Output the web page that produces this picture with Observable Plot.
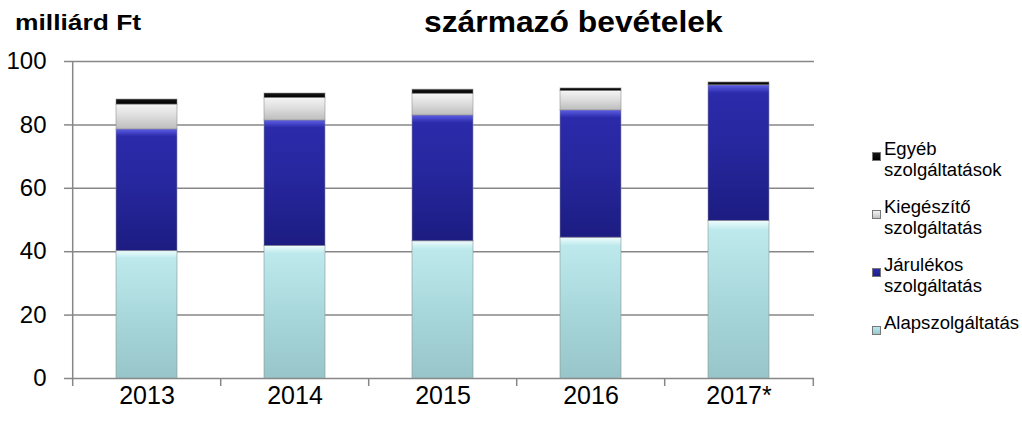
<!DOCTYPE html>
<html><head><meta charset="utf-8">
<script src="https://cdn.jsdelivr.net/npm/d3@7"></script>
<script src="https://cdn.jsdelivr.net/npm/@observablehq/plot@0.6"></script>
<style>
body{margin:0;background:#fff;font-family:"Liberation Sans",Arial,sans-serif;}
#wrap{position:relative;width:1022px;height:421px;overflow:hidden;background:#fff;}
#chart{position:absolute;left:0;top:0;}
.t{position:absolute;white-space:nowrap;color:#000;transform-origin:0 0;}
</style></head><body>
<svg width="0" height="0" style="position:absolute">
<defs id="defs"></defs>
</svg>
<div id="wrap">
<div id="chart"></div>
<div class="t" id="unit">milliárd Ft</div>
<div class="t" id="title">származó bevételek</div>
<div id="legend"></div>
</div>
<script>
// ---- data ----
const years = ["2013", "2014", "2015", "2016", "2017*"];
const seriesNames = ["Alapszolgáltatás", "Járulékos szolgáltatás", "Kiegészítő szolgáltatás", "Egyéb szolgáltatások"];
const alap = [40.2, 41.8, 43.3, 44.4, 49.7];
const jarulekos = [38.4, 39.6, 39.7, 40.2, 42.8];
const kiegeszito = [7.8, 7.1, 6.8, 6.1, 0];
const egyeb = [1.6, 1.4, 1.3, 0.8, 0.9];
const yTicks = [0, 20, 40, 60, 80, 100];
const legendLabels = [["Egyéb", "szolgáltatások"], ["Kiegészítő", "szolgáltatás"], ["Járulékos", "szolgáltatás"], ["Alapszolgáltatás"]];
const legendSeries = ["Egyéb szolgáltatások", "Kiegészítő szolgáltatás", "Járulékos szolgáltatás", "Alapszolgáltatás"];

// ---- gradients (bevel look) ----
const grads = {
  "Alapszolgáltatás": ["#effdfe", "#bde9ec", "#a9d8dc", "#97c5c9"],
  "Járulékos szolgáltatás": ["#6060e8", "#2b2bab", "#26269c", "#1c1c82"],
  "Kiegészítő szolgáltatás": ["#ffffff", "#f2f2f2", "#dcdcdc", "#bdbdbd"],
  "Egyéb szolgáltatások": ["#3a3a3a", "#161616", "#0c0c0c", "#000000"]
};
const defs = document.getElementById("defs");
const gradIds = seriesNames.map((s, i) => {
  const id = "g" + i;
  const c = grads[s];
  const ns = "http://www.w3.org/2000/svg";
  const lg = document.createElementNS(ns, "linearGradient");
  lg.setAttribute("id", id);
  lg.setAttribute("x1", "0"); lg.setAttribute("y1", "0");
  lg.setAttribute("x2", "0"); lg.setAttribute("y2", "1");
  [[0, c[0]], [0.06, c[1]], [0.5, c[2]], [1, c[3]]].forEach(([o, col]) => {
    const st = document.createElementNS(ns, "stop");
    st.setAttribute("offset", o);
    st.setAttribute("stop-color", col);
    lg.appendChild(st);
  });
  defs.appendChild(lg);
  return id;
});

const series = [alap, jarulekos, kiegeszito, egyeb];
const data = [];
years.forEach((yr, i) => series.forEach((arr, k) => data.push({year: yr, series: seriesNames[k], value: arr[i]})));

const W = 1022, H = 421, mL = 71, mR = 208, mT = 61, mB = 43;
const step = (W - mL - mR) / years.length;
const grey = "#878787";

const plot = Plot.plot({
  width: W, height: H,
  marginLeft: mL, marginRight: mR, marginTop: mT, marginBottom: mB,
  style: {fontFamily: "'Liberation Sans', Arial, sans-serif", background: "transparent", overflow: "visible", color: "#000"},
  x: {domain: years, paddingInner: 0.59, paddingOuter: 0.295, axis: null, label: null},
  y: {domain: [0, 100], axis: null, label: null},
  color: {domain: seriesNames, range: gradIds.map(id => `url(#${id})`)},
  marks: [
    Plot.ruleY(yTicks, {stroke: grey, strokeWidth: 1.5}),
    Plot.barY(data, {x: "year", y: "value", fill: "series", order: seriesNames, stroke: "#8c8c8c", strokeOpacity: 0.55, strokeWidth: 1}),
    Plot.tickX([years[0]], {x: d => d, dx: -step / 2, stroke: grey, strokeWidth: 1.5}),
    Plot.axisY({ticks: yTicks, tickSize: 7, tickPadding: 18, fontSize: 24, stroke: grey, strokeWidth: 1.5, label: null}),
    Plot.axisX({ticks: years, tickSize: 8, tickFormat: () => "", dx: -step / 2, stroke: grey, strokeWidth: 1.5, label: null}),
    Plot.axisX({ticks: [years[years.length - 1]], tickSize: 8, tickFormat: () => "", dx: step / 2, stroke: grey, strokeWidth: 1.5, label: null}),
    Plot.axisX({ticks: years, tickSize: 0, tickPadding: 8, fontSize: 25, label: null})
  ]
});
document.getElementById("chart").appendChild(plot);

// ---- texts ----
const unit = document.getElementById("unit");
Object.assign(unit.style, {left: "15px", top: "12px", fontSize: "22px", lineHeight: "22px", fontWeight: "bold", transform: "scaleX(1.2)"});
const title = document.getElementById("title");
Object.assign(title.style, {left: "424px", top: "7px", fontSize: "30px", lineHeight: "30px", fontWeight: "bold", transform: "scaleX(1.06)"});

// ---- legend ----
const legend = document.getElementById("legend");
const tops = [139, 197, 255, 313];
legendSeries.forEach((s, i) => {
  const id = gradIds[seriesNames.indexOf(s)];
  const sw = document.createElement("div");
  Object.assign(sw.style, {position: "absolute", left: "872px", top: (tops[i] + 8) + "px", width: "9px", height: "9px"});
  sw.innerHTML = `<svg width="9" height="9"><rect x="0.5" y="0.5" width="8" height="8" fill="url(#${id})" stroke="#777" stroke-width="1"/></svg>`;
  legend.appendChild(sw);
  const tx = document.createElement("div");
  tx.className = "t";
  Object.assign(tx.style, {left: "884px", top: tops[i] + "px", fontSize: "18px", lineHeight: "21px", transform: "scaleX(1.03)"});
  tx.innerHTML = legendLabels[i].join("<br>");
  legend.appendChild(tx);
});
</script>
</body></html>
